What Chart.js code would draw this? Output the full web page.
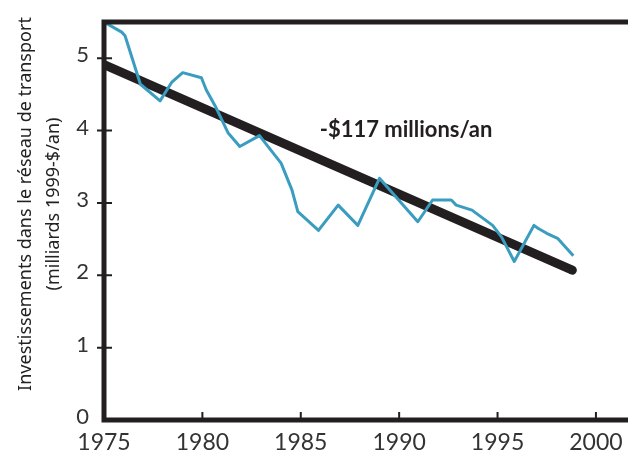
<!DOCTYPE html>
<html>
<head>
<meta charset="utf-8">
<script src="https://cdn.jsdelivr.net/npm/chart.js@4.4.0/dist/chart.umd.min.js"></script>
<style>
body { margin: 0; background: #fff; }
</style>
</head>
<body>
<canvas id="myChart" width="628" height="454"></canvas>
<script>
// values (milliards 1999-$/an)
const years = [1975.0, 1975.9, 1976.07, 1976.85, 1977.85, 1978.45, 1979.0, 1979.95, 1980.2, 1980.65,
    1981.3, 1981.9, 1982.9, 1984.0, 1984.55, 1984.85, 1985.9, 1986.9, 1987.9, 1989.0,
    1990.95, 1991.7, 1992.65, 1992.9, 1993.7, 1994.75, 1995.2, 1995.85, 1996.85, 1997.05,
    1997.5, 1998.05, 1998.85];
const investment = [5.50, 5.36, 5.31, 4.64, 4.41, 4.67, 4.80, 4.73, 4.56, 4.34,
    3.97, 3.78, 3.93, 3.55, 3.18, 2.88, 2.62, 2.97, 2.69, 3.34,
    2.74, 3.04, 3.04, 2.97, 2.90, 2.69, 2.53, 2.19, 2.69, 2.65,
    2.58, 2.51, 2.27];
const trendYears = [1975, 1998.8];
const trendValues = [4.91, 2.07];
const xTicks = [1975, 1980, 1985, 1990, 1995, 2000];
const yTicks = [0, 1, 2, 3, 4, 5];
const yTitle = ["Investissements dans le réseau de transport", "(milliards 1999-$/an)"];
const trendLabel = "-$117 millions/an";

const ink = "#231f20";
const textColor = "#333333";

function toPoints(xs, ys)
{
    return xs.map((x, i) => ({ x: x, y: ys[i] }));
}

// axis frame, crossing ticks, title and slope label
const framePlugin = {
    id: "frame",
    afterDraw(chart)
    {
        const ctx = chart.ctx;
        const area = chart.chartArea;
        const xs = chart.scales.x;
        const ys = chart.scales.y;
        ctx.save();
        ctx.strokeStyle = ink;
        ctx.lineWidth = 5;
        ctx.beginPath();
        ctx.moveTo(area.left, area.top);
        ctx.lineTo(area.right, area.top);
        ctx.moveTo(area.left, area.top - 2.5);
        ctx.lineTo(area.left, area.bottom + 2.5);
        ctx.moveTo(area.left, area.bottom);
        ctx.lineTo(area.right, area.bottom);
        ctx.stroke();

        ctx.lineWidth = 2;
        ctx.beginPath();
        yTicks.forEach(v =>
        {
            if (v == 0) return;
            const py = ys.getPixelForValue(v);
            ctx.moveTo(area.left - 7, py);
            ctx.lineTo(area.left + 8, py);
        });
        xTicks.forEach(v =>
        {
            if (v == 1975) return;
            const px = xs.getPixelForValue(v);
            ctx.moveTo(px, area.bottom - 8);
            ctx.lineTo(px, area.bottom);
        });
        ctx.stroke();

        ctx.fillStyle = ink;
        ctx.font = "bold 22px Lato";
        ctx.textAlign = "center";
        ctx.textBaseline = "middle";
        ctx.fillText(trendLabel, xs.getPixelForValue(1990.35), ys.getPixelForValue(4.01));

        ctx.fillStyle = "#222222";
        ctx.font = "18px 'Noto Sans'";
        ctx.translate(0, 204);
        ctx.rotate(-Math.PI / 2);
        ctx.fillText(yTitle[0], 0, 26);
        ctx.fillText(yTitle[1], 0, 54);
        ctx.restore();
    }
};

function createGraph()
{
    const ctx = document.getElementById("myChart");
    const data = {
        datasets: [
            {
                label: "Investissements",
                data: toPoints(years, investment),
                borderColor: "#3a9dc0",
                borderWidth: 3,
                pointRadius: 0,
                tension: 0,
                borderJoinStyle: "round"
            },
            {
                label: "Tendance",
                data: toPoints(trendYears, trendValues),
                borderColor: ink,
                borderWidth: 9,
                borderCapStyle: "round",
                pointRadius: 0
            }
        ]
    };

    new Chart(ctx, {
        type: "line",
        data: data,
        plugins: [framePlugin],
        options: {
            responsive: false,
            animation: false,
            layout: { padding: { top: 22, right: 0, left: 0, bottom: 0 } },
            plugins: {
                legend: { display: false },
                tooltip: { enabled: false }
            },
            scales: {
                x: {
                    type: "linear",
                    min: 1975,
                    max: 2001.63,
                    grid: { display: false, drawTicks: false },
                    border: { display: false },
                    afterBuildTicks: scale => { scale.ticks = xTicks.map(v => ({ value: v })); },
                    afterFit: scale =>
                    {
                        scale.height = 34;
                        scale.paddingLeft = 0;
                        scale.paddingRight = 0;
                    },
                    ticks: {
                        color: textColor,
                        font: { family: "Lato", size: 23 },
                        padding: 9,
                        maxRotation: 0,
                        callback: v => String(v)
                    }
                },
                y: {
                    min: 0,
                    max: 5.5,
                    grid: { display: false, drawTicks: false },
                    border: { display: false },
                    afterBuildTicks: scale => { scale.ticks = yTicks.map(v => ({ value: v })); },
                    afterFit: scale =>
                    {
                        scale.width = 104;
                        scale.paddingTop = 0;
                        scale.paddingBottom = 0;
                    },
                    ticks: {
                        color: textColor,
                        font: { family: "Lato", size: 22 },
                        padding: 15,
                        labelOffset: -3
                    }
                }
            }
        }
    });
}
createGraph();
</script>
</body>
</html>
